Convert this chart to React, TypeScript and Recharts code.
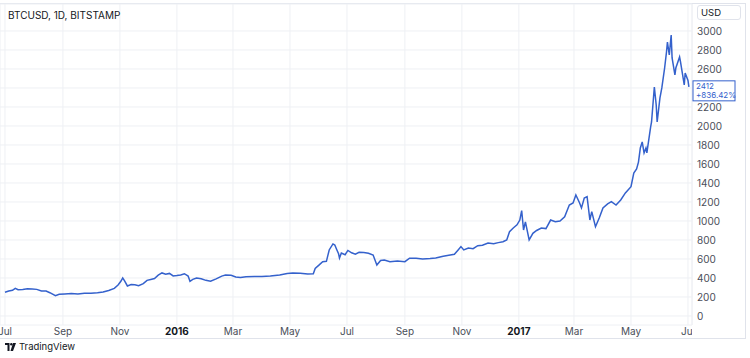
import { LineChart, Line, XAxis, YAxis, CartesianGrid, ReferenceDot } from "recharts";

const dates = [
  "2015-07-01", "2015-07-05", "2015-07-09", "2015-07-12", "2015-07-15", "2015-07-20", "2015-07-25", "2015-07-30",
  "2015-08-04", "2015-08-09", "2015-08-14", "2015-08-18", "2015-08-24", "2015-08-28", "2015-09-03", "2015-09-10",
  "2015-09-17", "2015-09-24", "2015-10-01", "2015-10-08", "2015-10-14", "2015-10-20", "2015-10-26", "2015-10-30",
  "2015-11-02", "2015-11-04", "2015-11-06", "2015-11-09", "2015-11-13", "2015-11-17", "2015-11-21", "2015-11-26",
  "2015-11-30", "2015-12-04", "2015-12-08", "2015-12-12", "2015-12-16", "2015-12-20", "2015-12-24", "2015-12-28",
  "2016-01-01", "2016-01-05", "2016-01-09", "2016-01-13", "2016-01-15", "2016-01-18", "2016-01-22", "2016-01-27",
  "2016-02-01", "2016-02-06", "2016-02-12", "2016-02-18", "2016-02-22", "2016-02-28", "2016-03-04", "2016-03-09",
  "2016-03-15", "2016-03-24", "2016-04-01", "2016-04-10", "2016-04-20", "2016-04-28", "2016-05-04", "2016-05-12",
  "2016-05-20", "2016-05-26", "2016-05-28", "2016-06-01", "2016-06-05", "2016-06-09", "2016-06-12", "2016-06-16",
  "2016-06-18", "2016-06-20", "2016-06-22", "2016-06-23", "2016-06-25", "2016-06-29", "2016-07-02", "2016-07-06",
  "2016-07-10", "2016-07-14", "2016-07-19", "2016-07-24", "2016-07-29", "2016-08-02", "2016-08-06", "2016-08-10",
  "2016-08-16", "2016-08-24", "2016-09-01", "2016-09-06", "2016-09-13", "2016-09-20", "2016-09-28", "2016-10-04",
  "2016-10-12", "2016-10-18", "2016-10-24", "2016-10-28", "2016-10-31", "2016-11-03", "2016-11-08", "2016-11-13",
  "2016-11-18", "2016-11-23", "2016-11-29", "2016-12-05", "2016-12-10", "2016-12-15", "2016-12-19", "2016-12-22",
  "2016-12-26", "2016-12-30", "2017-01-02", "2017-01-04", "2017-01-06", "2017-01-08", "2017-01-12", "2017-01-16",
  "2017-01-20", "2017-01-25", "2017-01-30", "2017-02-04", "2017-02-09", "2017-02-14", "2017-02-19", "2017-02-24",
  "2017-02-28", "2017-03-03", "2017-03-07", "2017-03-09", "2017-03-12", "2017-03-15", "2017-03-18", "2017-03-20",
  "2017-03-24", "2017-03-28", "2017-04-01", "2017-04-06", "2017-04-10", "2017-04-15", "2017-04-20", "2017-04-25",
  "2017-05-01", "2017-05-04", "2017-05-07", "2017-05-09", "2017-05-11", "2017-05-13", "2017-05-15", "2017-05-17",
  "2017-05-18", "2017-05-22", "2017-05-23", "2017-05-26", "2017-05-28", "2017-05-29", "2017-06-01", "2017-06-03",
  "2017-06-06", "2017-06-08", "2017-06-09", "2017-06-11", "2017-06-13", "2017-06-14", "2017-06-17", "2017-06-18",
  "2017-06-22", "2017-06-23", "2017-06-27", "2017-06-28", "2017-07-01", "2017-07-02",
];

const prices = [
  249, 262, 270, 291, 276, 278, 287, 284,
  280, 263, 262, 245, 214, 228, 231, 236,
  232, 240, 238, 244, 252, 268, 290, 326,
  365, 400, 370, 316, 330, 328, 318, 340,
  375, 385, 395, 430, 453, 440, 448, 421,
  425, 432, 445, 420, 365, 385, 400, 392,
  375, 365, 390, 420, 432, 428, 410, 405,
  414, 415, 416, 421, 432, 448, 452, 449,
  441, 445, 500, 535, 572, 575, 695, 758,
  747, 700, 655, 610, 663, 645, 690, 665,
  650, 670, 668, 660, 642, 537, 585, 588,
  572, 578, 572, 608, 608, 600, 604, 610,
  628, 640, 650, 695, 730, 695, 716, 708,
  740, 745, 768, 760, 772, 782, 800, 887,
  926, 960, 1010, 1110, 905, 990, 800, 870,
  900, 926, 920, 1010, 993, 1000, 1045, 1168,
  1189, 1274, 1189, 1137, 1242, 1256, 1010, 1098,
  940, 1031, 1137, 1180, 1203, 1168, 1221, 1295,
  1361, 1505, 1547, 1620, 1768, 1832, 1716, 1768,
  1716, 1989, 2042, 2410, 2221, 2042, 2295, 2400,
  2610, 2779, 2884, 2747, 2958, 2716, 2537, 2610,
  2726, 2674, 2432, 2558, 2480, 2412,
];

const tickDates = [
  "2015-07-01", "2015-09-01", "2015-11-01", "2016-01-01", "2016-03-01", "2016-05-01", "2016-07-01",
  "2016-09-01", "2016-11-01", "2017-01-01", "2017-03-01", "2017-05-01", "2017-07-01",
];
const tickLabels = ["Jul", "Sep", "Nov", "2016", "Mar", "May", "Jul", "Sep", "Nov", "2017", "Mar", "May", "Jul"];
const priceTicks = [0, 200, 400, 600, 800, 1000, 1200, 1400, 1600, 1800, 2000, 2200, 2400, 2600, 2800, 3000];
const changeLabel = "+836.42%";

const toTime = (d: string) => Date.parse(d + "T00:00:00Z");
const data = dates.map((d, i) => ({ t: toTime(d), v: prices[i] }));
const xTicks = tickDates.map(toTime);
const last = data[data.length - 1];

const DAY = 86400000;
const xDomain = [toTime("2015-06-25") + 0.65 * DAY, toTime("2017-07-05") + 0.3 * DAY];

const font = "Inter, 'Noto Sans', sans-serif";
const blue = "#3461cc";

const TimeTick = (props: any) => {
  const { x, y, payload } = props;
  const idx = xTicks.indexOf(payload.value);
  const label = tickLabels[idx] ?? "";
  const isYear = /^\d{4}$/.test(label);
  return (
    <text
      x={x}
      y={y}
      dy="0.71em"
      textAnchor="middle"
      clipPath="url(#plotClip)"
      fontFamily={font}
      fontSize={10}
      fontWeight={isYear ? 700 : 400}
      fill={isYear ? "#131722" : "#4a4e59"}
    >
      {label}
    </text>
  );
};

// price labels hidden where the last-price tag sits (as TradingView does)
const PriceTick = (props: any) => {
  const { x, y, payload } = props;
  if (Math.abs(payload.value - last.v) < 120) return null;
  return (
    <text x={x} y={y} dy="0.355em" textAnchor="start" fontFamily={font} fontSize={10} fill="#4a4e59">
      {payload.value}
    </text>
  );
};

// last-price tag drawn on the price scale, at the last point's height
const PriceTag = (props: any) => {
  const vb = props.viewBox || {};
  const cy = (vb.y ?? 0) + (vb.height ?? 0) / 2;
  return (
    <g>
      <rect x={693} y={cy - 6} width={42} height={20} fill="#fff" stroke={blue} strokeWidth={1} />
      <text x={696} y={cy + 2.5} fontFamily={font} fontSize={8} fill={blue}>
        {last.v}
      </text>
      <text x={696} y={cy + 11.5} fontFamily={font} fontSize={8} fill={blue}>
        {changeLabel}
      </text>
    </g>
  );
};

export default function App() {
  return (
    <div style={{ position: "absolute", left: 0, top: 0, width: 750, height: 358, background: "#fff", overflow: "hidden" }}>
      <svg width={0} height={0} style={{ position: "absolute" }}>
        <defs>
          <clipPath id="plotClip" clipPathUnits="userSpaceOnUse">
            <rect x={0} y={0} width={692} height={358} />
          </clipPath>
        </defs>
      </svg>

      {/* frame */}
      <div style={{ position: "absolute", left: -1, top: 3, width: 745, height: 334, border: "1px solid #e0e3eb" }} />

      <div style={{ position: "absolute", left: 0, top: 0 }}>
        <LineChart width={750} height={358} data={data} margin={{ top: 4, right: 0, left: 0, bottom: 13 }}>
          <CartesianGrid stroke="#eef0f4" />
          <XAxis
            dataKey="t"
            type="number"
            scale="time"
            domain={xDomain}
            ticks={xTicks}
            allowDataOverflow
            axisLine={false}
            tickLine={false}
            tickSize={1}
            tickMargin={2}
            height={20}
            tick={<TimeTick />}
            interval={0}
          />
          <YAxis
            orientation="right"
            type="number"
            domain={[-95, 3284]}
            ticks={priceTicks}
            allowDataOverflow
            axisLine={{ stroke: "#eef0f4" }}
            tickLine={false}
            tickSize={3}
            tickMargin={2}
            width={58}
            interval={0}
            tick={<PriceTick />}
          />
          <Line
            type="linear"
            dataKey="v"
            stroke={blue}
            strokeWidth={1.5}
            dot={false}
            activeDot={false}
            isAnimationActive={false}
          />
          <ReferenceDot x={last.t} y={last.v} r={1} fill="none" stroke="none" label={{ content: (p: any) => <PriceTag {...p} /> }} />
        </LineChart>
      </div>

      {/* header */}
      <div style={{ position: "absolute", left: 8, top: 9, fontFamily: font, fontSize: 10, color: "#131722" }}>
        BTCUSD, 1D, BITSTAMP
      </div>
      <div
        style={{
          position: "absolute",
          left: 697,
          top: 5,
          width: 44,
          height: 15,
          border: "1px solid #e0e3eb",
          borderRadius: 3,
          boxSizing: "border-box",
          fontFamily: font,
          fontSize: 9.5,
          color: "#131722",
          lineHeight: "13px",
          paddingLeft: 3,
        }}
      >
        USD
      </div>

      {/* footer logo */}
      <div style={{ position: "absolute", left: 5, top: 341, display: "flex", alignItems: "center", gap: 3 }}>
        <svg width={11} height={8} viewBox="0 0 11 8">
          <path d="M0 0 H4.5 V8 H2.5 V2 H0 Z" fill="#131722" />
          <circle cx={6.3} cy={1.2} r={1.2} fill="#131722" />
          <path d="M8 0 H11 L8 8 H5.5 Z" fill="#131722" />
        </svg>
        <span style={{ fontFamily: font, fontSize: 9.5, color: "#131722" }}>TradingView</span>
      </div>
    </div>
  );
}
